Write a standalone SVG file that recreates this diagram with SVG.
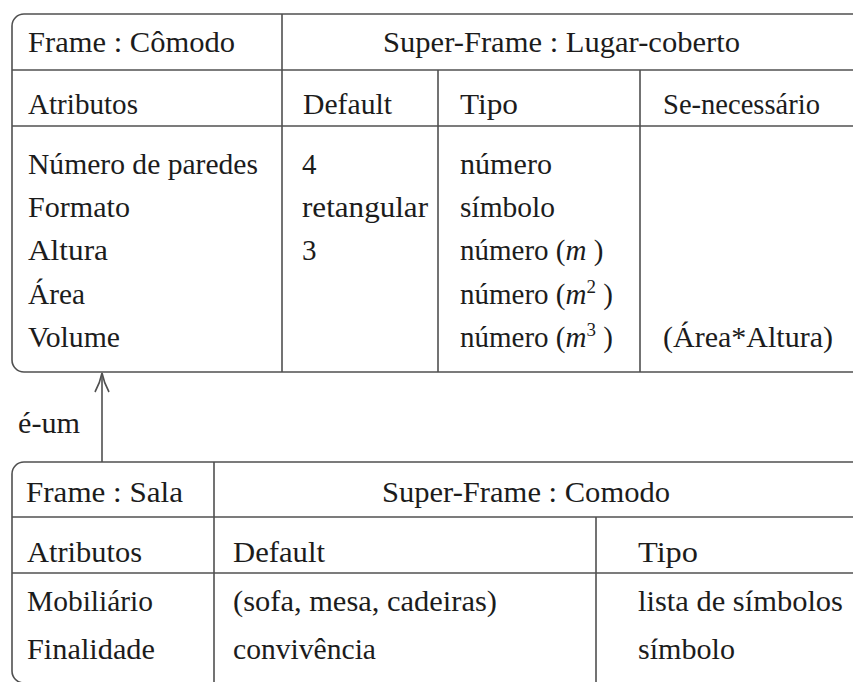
<svg xmlns="http://www.w3.org/2000/svg" width="853" height="682" viewBox="0 0 853 682">
<style>
.t{font-family:'Liberation Serif','Times New Roman',serif;font-size:29px;fill:#1c1c1c}
.ln{stroke:#505050;stroke-width:1.6;fill:none}
.fr{stroke:#505050;stroke-width:1.6;fill:#fff}
</style>
<defs>
<path id="arrowhead" d="M-7,19 Q-2,10 0,0 Q2,10 7,19" fill="none" stroke="#505050" stroke-width="1.6"/>
</defs>
<rect width="853" height="682" fill="#fff"/>
<g id="frame-comodo">
<rect class="fr" x="12" y="14" width="852" height="358" rx="12" ry="12"/>
<line class="ln" x1="12" y1="70" x2="853" y2="70"/>
<line class="ln" x1="12" y1="126" x2="853" y2="126"/>
<line class="ln" x1="282" y1="14" x2="282" y2="372"/>
<line class="ln" x1="438" y1="70" x2="438" y2="372"/>
<line class="ln" x1="640" y1="70" x2="640" y2="372"/>
<text class="t" x="28" y="52" textLength="207" lengthAdjust="spacingAndGlyphs">Frame : Cômodo</text>
<text class="t" x="383" y="52" textLength="357" lengthAdjust="spacingAndGlyphs">Super-Frame : Lugar-coberto</text>
<text class="t" x="28" y="114" textLength="110" lengthAdjust="spacingAndGlyphs">Atributos</text>
<text class="t" x="303" y="114" textLength="89" lengthAdjust="spacingAndGlyphs">Default</text>
<text class="t" x="460" y="114" textLength="58" lengthAdjust="spacingAndGlyphs">Tipo</text>
<text class="t" x="663" y="114" textLength="157" lengthAdjust="spacingAndGlyphs">Se-necessário</text>
<text class="t" x="28" y="174" textLength="230" lengthAdjust="spacingAndGlyphs">Número de paredes</text>
<text class="t" x="28" y="217" textLength="102" lengthAdjust="spacingAndGlyphs">Formato</text>
<text class="t" x="28" y="260" textLength="80" lengthAdjust="spacingAndGlyphs">Altura</text>
<text class="t" x="28" y="304" textLength="57" lengthAdjust="spacingAndGlyphs">Área</text>
<text class="t" x="28" y="347" textLength="92" lengthAdjust="spacingAndGlyphs">Volume</text>
<text class="t" x="302" y="174">4</text>
<text class="t" x="302" y="217" textLength="126" lengthAdjust="spacingAndGlyphs">retangular</text>
<text class="t" x="302" y="260">3</text>
<text class="t" x="460" y="174" textLength="92" lengthAdjust="spacingAndGlyphs">número</text>
<text class="t" x="460" y="217" textLength="95" lengthAdjust="spacingAndGlyphs">símbolo</text>
<text class="t" x="460" y="260">número (<tspan font-style="italic">m</tspan> )</text>
<text class="t" x="460" y="304">número (<tspan font-style="italic">m</tspan><tspan font-size="19" dy="-11">2</tspan><tspan dy="11"> )</tspan></text>
<text class="t" x="460" y="347">número (<tspan font-style="italic">m</tspan><tspan font-size="19" dy="-11">3</tspan><tspan dy="11"> )</tspan></text>
<text class="t" x="663" y="347" textLength="170" lengthAdjust="spacingAndGlyphs">(Área*Altura)</text>
</g>
<g id="connectors">
<line class="ln" x1="102" y1="462" x2="102" y2="374"/>
<use href="#arrowhead" x="102" y="373"/>
<text class="t" x="18" y="433" textLength="62" lengthAdjust="spacingAndGlyphs">é-um</text>
</g>
<g id="frame-sala">
<rect class="fr" x="12" y="462" width="852" height="221" rx="12" ry="12"/>
<line class="ln" x1="12" y1="517" x2="853" y2="517"/>
<line class="ln" x1="12" y1="573" x2="853" y2="573"/>
<line class="ln" x1="214" y1="462" x2="214" y2="683"/>
<line class="ln" x1="596" y1="517" x2="596" y2="683"/>
<text class="t" x="26" y="502" textLength="157" lengthAdjust="spacingAndGlyphs">Frame : Sala</text>
<text class="t" x="382" y="502" textLength="288" lengthAdjust="spacingAndGlyphs">Super-Frame : Comodo</text>
<text class="t" x="27" y="562" textLength="115" lengthAdjust="spacingAndGlyphs">Atributos</text>
<text class="t" x="233" y="562" textLength="92" lengthAdjust="spacingAndGlyphs">Default</text>
<text class="t" x="638" y="562" textLength="60" lengthAdjust="spacingAndGlyphs">Tipo</text>
<text class="t" x="27" y="611" textLength="126" lengthAdjust="spacingAndGlyphs">Mobiliário</text>
<text class="t" x="27" y="659" textLength="128" lengthAdjust="spacingAndGlyphs">Finalidade</text>
<text class="t" x="233" y="611" textLength="264" lengthAdjust="spacingAndGlyphs">(sofa, mesa, cadeiras)</text>
<text class="t" x="233" y="659" textLength="143" lengthAdjust="spacingAndGlyphs">convivência</text>
<text class="t" x="638" y="611" textLength="205" lengthAdjust="spacingAndGlyphs">lista de símbolos</text>
<text class="t" x="638" y="659" textLength="97" lengthAdjust="spacingAndGlyphs">símbolo</text>
</g>
</svg>
